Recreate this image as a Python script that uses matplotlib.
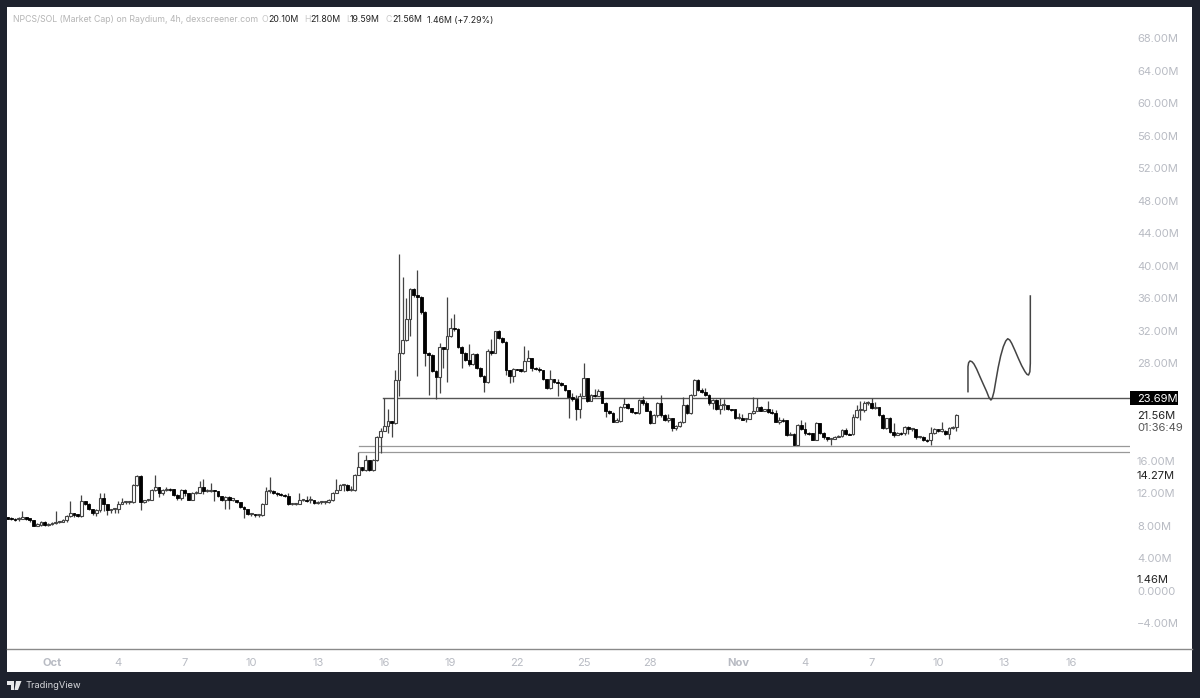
# NPCS/SOL market cap, 4h candles
import pandas as pd
import numpy as np
import matplotlib
matplotlib.use('Agg')
import matplotlib.pyplot as plt
import matplotlib.dates as mdates
from matplotlib.lines import Line2D
from matplotlib.patches import Rectangle, Polygon

plt.rcParams['font.family'] = ['Inter', 'DejaVu Sans']

# values in millions
closes = [
    8.95, 8.85, 8.75, 8.85, 9.0, 8.9, 8.7, 8.0, 8.1, 8.5,
    8.1, 8.2, 8.3, 8.45, 8.5, 8.65, 9.2, 9.5, 9.4, 9.15,
    11.0, 10.7, 10.0, 9.5, 9.9, 11.35, 10.7, 9.9, 10.0, 10.0,
    10.7, 10.9, 10.9, 10.9, 13.0, 14.1, 10.9, 11.1, 11.2, 12.4,
    12.7, 11.95, 12.4, 12.55, 12.5, 11.8, 11.4, 12.4, 11.95, 11.2,
    12.0, 12.05, 12.7, 12.2, 12.3, 12.35, 12.25, 11.65, 11.15, 11.5,
    11.2, 11.2, 10.9, 10.3, 10.0, 9.4, 9.4, 9.3, 9.3, 10.7,
    12.2, 12.2, 12.05, 11.9, 11.8, 11.7, 10.65, 10.7, 10.7, 11.15,
    11.15, 11.1, 11.1, 10.8, 10.9, 10.9, 10.9, 11.15, 12.05, 12.4,
    13.0, 13.0, 12.4, 12.4, 14.2, 15.25, 14.85, 16.05, 14.85, 16.05,
    18.9, 19.7, 20.3, 20.9, 20.6, 25.9, 29.3, 30.8, 33.4, 37.1,
    36.4, 36.2, 34.3, 29.3, 29.0, 27.0, 26.3, 30.0, 29.7, 31.3,
    32.3, 32.2, 30.0, 29.3, 28.4, 27.9, 29.1, 27.4, 26.4, 25.7,
    29.5, 29.2, 31.9, 31.1, 30.65, 27.15, 26.4, 27.3, 27.25, 27.0,
    28.3, 28.6, 27.4, 27.25, 27.1, 26.0, 24.9, 26.0, 25.7, 25.6,
    25.3, 24.7, 23.8, 23.55, 22.3, 24.0, 26.13, 23.38, 24.08, 23.96,
    24.6, 23.14, 22.15, 21.9, 20.8, 20.9, 22.6, 22.95, 22.44, 22.03,
    21.9, 23.46, 23.15, 22.15, 20.67, 21.6, 23.05, 21.6, 21.0, 21.3,
    19.97, 20.26, 20.8, 22.85, 21.9, 24.08, 25.93, 24.7, 24.5, 24.08,
    23.05, 23.46, 22.31, 22.85, 22.85, 22.4, 22.3, 21.2, 21.2, 21.08,
    21.08, 21.82, 22.15, 22.64, 22.15, 22.3, 22.03, 21.9, 20.8, 21.0,
    20.95, 19.15, 19.3, 17.95, 20.4, 19.95, 19.4, 19.35, 18.55, 20.6,
    19.45, 18.85, 18.6, 18.6, 18.85, 19.0, 19.8, 19.3, 19.25, 21.35,
    22.2, 22.2, 23.1, 23.1, 22.45, 22.55, 21.6, 20.0, 21.2, 19.55,
    19.15, 19.4, 19.35, 20.2, 19.85, 19.85, 18.85, 18.95, 18.55, 18.5,
    19.35, 19.85, 19.7, 19.7, 19.3, 20.0, 20.1, 21.56,
]
highs = [
    9.1, 9.0, 8.9, 9.0, 9.8, 9.0, 8.8, 8.7, 8.3, 8.6,
    8.6, 8.3, 8.4, 9.8, 8.6, 8.8, 9.3, 11.0, 9.5, 9.4,
    11.75, 11.0, 10.8, 10.1, 10.0, 12.0, 12.0, 10.7, 10.1, 10.1,
    11.0, 11.35, 11.0, 11.0, 13.1, 14.2, 14.2, 11.2, 11.3, 12.5,
    14.2, 12.8, 12.5, 12.7, 12.6, 12.5, 11.9, 12.5, 12.5, 12.0,
    12.1, 12.2, 13.5, 13.7, 12.5, 13.3, 12.4, 12.3, 11.7, 11.7,
    11.6, 11.3, 11.0, 10.7, 10.4, 9.6, 9.5, 9.4, 9.4, 10.8,
    12.8, 14.0, 12.4, 12.1, 12.0, 11.85, 12.0, 10.8, 10.8, 12.0,
    11.3, 11.7, 11.7, 11.2, 11.0, 11.0, 11.0, 11.3, 12.1, 13.7,
    13.1, 13.1, 13.1, 12.9, 14.3, 17.0, 15.2, 16.7, 15.6, 16.2,
    19.0, 20.0, 23.7, 22.4, 20.9, 27.2, 41.45, 38.6, 36.0, 37.2,
    37.2, 39.5, 36.3, 34.4, 29.4, 29.1, 27.2, 30.5, 29.9, 36.1,
    33.6, 34.1, 32.3, 30.1, 29.4, 30.4, 29.2, 29.2, 27.5, 26.5,
    29.7, 31.0, 32.0, 32.1, 31.2, 30.7, 27.2, 27.4, 27.3, 27.2,
    30.1, 29.6, 28.6, 27.5, 27.5, 27.1, 26.0, 27.2, 26.1, 26.0,
    25.7, 25.3, 24.7, 24.3, 24.1, 24.3, 28.0, 26.2, 24.2, 24.8,
    24.8, 23.6, 23.2, 22.2, 22.0, 21.2, 22.7, 23.7, 23.1, 22.5,
    22.0, 23.6, 23.9, 23.4, 22.2, 21.7, 23.2, 24.1, 21.7, 21.8,
    21.1, 20.4, 20.9, 23.8, 22.95, 24.2, 26.0, 26.0, 25.0, 25.0,
    24.2, 23.6, 23.6, 23.7, 23.6, 22.5, 22.4, 22.2, 21.9, 21.8,
    21.2, 21.9, 23.8, 23.7, 22.7, 22.4, 23.3, 22.3, 22.2, 21.4,
    21.2, 21.0, 19.5, 19.4, 20.5, 21.0, 20.8, 19.5, 19.4, 20.7,
    20.6, 19.5, 18.9, 18.7, 19.0, 19.1, 19.9, 20.0, 19.4, 21.7,
    22.9, 23.3, 23.3, 23.4, 23.65, 23.2, 22.6, 21.7, 21.3, 21.4,
    20.6, 19.5, 19.5, 20.3, 20.3, 20.0, 19.9, 19.0, 19.0, 18.6,
    20.2, 20.0, 19.8, 20.7, 19.75, 20.1, 20.3, 21.8,
]
lows = [
    8.8, 8.7, 8.6, 8.6, 8.8, 8.7, 8.5, 7.9, 7.9, 8.0,
    7.95, 8.0, 8.1, 8.2, 8.3, 8.4, 8.5, 9.1, 9.1, 9.0,
    9.0, 10.5, 9.9, 9.3, 9.2, 9.7, 9.8, 9.3, 9.6, 9.5,
    9.6, 10.6, 10.7, 10.7, 10.8, 12.9, 9.9, 10.8, 11.0, 11.1,
    12.3, 11.5, 11.8, 12.3, 12.3, 11.7, 11.2, 11.2, 11.7, 11.1,
    11.1, 11.9, 12.1, 11.9, 12.1, 12.1, 11.05, 11.5, 11.0, 10.1,
    10.1, 11.0, 10.8, 10.2, 8.9, 9.3, 9.2, 9.1, 9.1, 9.2,
    10.6, 12.0, 11.9, 11.7, 11.6, 11.5, 10.5, 10.5, 10.5, 10.7,
    11.0, 10.9, 10.8, 10.6, 10.7, 10.7, 10.7, 10.8, 11.0, 12.0,
    12.9, 12.3, 12.2, 12.3, 12.3, 14.2, 14.7, 14.7, 14.7, 14.7,
    16.0, 16.9, 19.6, 19.4, 18.95, 20.5, 23.9, 29.1, 30.7, 31.3,
    36.1, 26.4, 34.1, 27.6, 24.1, 26.9, 23.55, 24.3, 27.4, 25.7,
    31.2, 32.0, 29.9, 27.4, 28.3, 27.7, 27.8, 27.3, 26.3, 24.5,
    25.6, 29.0, 29.2, 31.0, 30.5, 26.5, 25.5, 25.7, 27.1, 26.9,
    26.9, 28.4, 27.0, 27.1, 26.9, 25.9, 24.8, 24.8, 25.5, 24.0,
    25.2, 24.6, 21.2, 23.4, 21.0, 21.2, 23.9, 23.2, 23.3, 23.8,
    24.1, 23.1, 21.4, 21.8, 20.7, 20.7, 20.8, 22.5, 22.3, 21.9,
    21.8, 21.8, 22.9, 22.1, 20.5, 20.6, 21.4, 21.4, 20.9, 20.7,
    19.7, 19.8, 20.2, 20.6, 21.7, 21.8, 24.0, 24.6, 24.3, 23.9,
    22.9, 22.4, 22.2, 21.7, 22.2, 22.2, 22.1, 21.1, 21.1, 21.0,
    20.7, 21.5, 21.8, 22.1, 22.1, 22.1, 21.9, 21.7, 20.7, 20.5,
    20.8, 19.0, 19.1, 17.9, 17.9, 19.8, 19.2, 19.2, 18.5, 18.5,
    19.3, 18.7, 18.4, 17.9, 18.7, 18.9, 18.9, 19.1, 19.1, 19.1,
    21.2, 21.0, 22.0, 22.9, 22.3, 22.3, 21.5, 19.9, 19.9, 19.4,
    18.9, 19.2, 19.2, 19.2, 19.3, 19.7, 18.7, 18.8, 18.4, 18.3,
    17.9, 19.3, 19.5, 19.5, 19.2, 18.6, 19.9, 19.59,
]
first_open = 9.0

# hand drawn line, day offset from Oct 1 and value
sketch_days = [41.355, 41.355, 41.385, 41.445, 41.535, 41.625, 41.745, 41.895, 42.05, 42.2, 42.3,
               42.39, 42.45, 42.53, 42.62, 42.72, 42.83, 42.95, 43.06, 43.15, 43.24, 43.33,
               43.48, 43.63, 43.78, 43.93, 44.02, 44.09, 44.15, 44.17, 44.17]
sketch_vals = [24.49, 27.57, 28.06, 28.27, 28.18, 27.9, 27.28, 26.34, 25.39, 24.49, 23.79,
               23.46, 23.67, 24.49, 25.93, 27.48, 28.88, 30.03, 30.73, 31.01, 30.85, 30.44,
               29.54, 28.59, 27.69, 26.95, 26.62, 26.54, 26.95, 27.98, 36.27]

level_vals = [23.69, 17.86, 17.0]
level_starts = ['2024-10-15 22:30', '2024-10-14 20:30', '2024-10-14 20:30']

y_ticks = [68, 64, 60, 56, 52, 48, 44, 40, 36, 32, 28, 16, 12, 8, 4, 0, -4]
y_labels = ['68.00M', '64.00M', '60.00M', '56.00M', '52.00M', '48.00M', '44.00M', '40.00M', '36.00M',
            '32.00M', '28.00M', '16.00M', '12.00M', '8.00M', '4.00M', '0.0000', '−4.00M']
x_ticks = ['2024-10-01', '2024-10-04', '2024-10-07', '2024-10-10', '2024-10-13', '2024-10-16',
           '2024-10-19', '2024-10-22', '2024-10-25', '2024-10-28', '2024-11-01', '2024-11-04',
           '2024-11-07', '2024-11-10', '2024-11-13', '2024-11-16']
x_labels = ['Oct', '4', '7', '10', '13', '16', '19', '22', '25', '28', 'Nov', '4', '7', '10', '13', '16']

W, H = 1200, 698
DARK = '#1e222d'
GREY = '#b8bbc3'

fig = plt.figure(figsize=(W / 100, H / 100), dpi=100, facecolor=DARK)
fig.add_artist(Rectangle((7 / W, 1 - 672 / H), 1185 / W, 665 / H, transform=fig.transFigure,
                         facecolor='white', edgecolor='none', zorder=-1))
ax = fig.add_axes([7 / W, 1 - 649 / H, 1123 / W, 642 / H], facecolor='none')

dates = pd.date_range('2024-09-29', periods=len(closes), freq='4h')
x = mdates.date2num(dates)
c = np.array(closes)
o = np.r_[first_open, c[:-1]]
up = c >= o

ax.vlines(x, lows, highs, color='#444444', lw=0.9, zorder=2)
ax.bar(x[up], np.maximum(c[up] - o[up], 0.14), 0.125, o[up], facecolor='white', edgecolor='#444444', lw=0.8, zorder=3)
ax.bar(x[~up], np.minimum(c[~up] - o[~up], -0.14), 0.125, o[~up], facecolor='black', edgecolor='black', lw=0.6, zorder=3)

oct1 = mdates.date2num(pd.Timestamp('2024-10-01'))
ax.plot(oct1 + np.array(sketch_days), sketch_vals, color='#444444', lw=1.1, zorder=4, solid_joinstyle='round')

ax.set_xlim(oct1 - 2.03, oct1 + 48.67)
ax.set_ylim(-7.2, 71.86)

for val, start, col, lw in zip(level_vals, level_starts, ['#555555', '#999999', '#999999'], [1.0, 0.9, 0.9]):
    ax.plot([mdates.date2num(pd.Timestamp(start)), ax.get_xlim()[1]], [val, val], color=col, lw=lw, zorder=1)

ax.yaxis.tick_right()
ax.set_yticks(y_ticks, y_labels, fontsize=8.0, color=GREY)
ax.tick_params(axis='y', length=0, pad=5)
ax.set_xticks(mdates.date2num(pd.to_datetime(x_ticks)), x_labels, fontsize=8.0, color=GREY)
ax.tick_params(axis='x', length=0, pad=6.3)
for lab in ax.get_xticklabels():
    if lab.get_text() in ('Oct', 'Nov'):
        lab.set_fontweight('bold')

for side in ['top', 'left', 'right', 'bottom']:
    ax.spines[side].set_visible(False)
# time scale border runs under the price scale as well
fig.add_artist(Line2D([7 / W, 1192 / W], [1 - 649 / H, 1 - 649 / H], transform=fig.transFigure,
                      color='#8a8a8a', lw=1.0))

# labels on the price scale
tr = ax.get_yaxis_transform()
ax.add_patch(Rectangle((1.0, 22.83), 48 / 1123, 1.72, transform=tr, facecolor='black', edgecolor='none',
                       clip_on=False, zorder=5))
ax.text(1.0062, 23.69, '23.69M', transform=tr, color='white', fontsize=8.0, va='center_baseline',
        clip_on=False, zorder=6)
ax.text(1.0062, 21.56, '21.56M', transform=tr, color='#222222', fontsize=8.0, va='center_baseline', clip_on=False)
ax.text(1.0062, 20.1, '01:36:49', transform=tr, color='#555555', fontsize=8.0, va='center_baseline', clip_on=False)
ax.text(1.0062, 14.27, '14.27M', transform=tr, color='#222222', fontsize=8.0, va='center_baseline', clip_on=False)
ax.text(1.0062, 1.46, '1.46M', transform=tr, color='#222222', fontsize=8.0, va='center_baseline', clip_on=False)


def px_text(px, py, s, **kw):
    fig.text(px / W, 1 - py / H, s, va='center', ha='left', **kw)


# header line
px_text(13, 20, 'NPCS/SOL (Market Cap) on Raydium, 4h, dexscreener.com', fontsize=6.3, color='#b5b5b5')
for px, letter, num_px, num in [(262, 'O', 268, '20.10M'), (304, 'H', 310, '21.80M'),
                                (346, 'L', 350, '19.59M'), (386, 'C', 392, '21.56M')]:
    px_text(px, 20, letter, fontsize=6.3, color='#c8c8c8')
    px_text(num_px, 20, num, fontsize=6.3, color='#222222')
px_text(427, 20, '1.46M (+7.29%)', fontsize=6.3, color='#222222')

# footer logo and name
logo_bars = [[(7, 681), (14, 681), (14, 690), (10.5, 690), (10.5, 685), (7, 685)],
             [(16, 681), (21.5, 681), (18, 690), (14.5, 690)]]
for pts in logo_bars:
    fig.add_artist(Polygon([(a / W, 1 - b / H) for a, b in pts], transform=fig.transFigure,
                           facecolor='#e8e8ea', edgecolor='none'))
px_text(25, 685.5, 'TradingView', fontsize=6.7, color='#d6d7db')

fig.savefig('out.png', dpi=100, facecolor=DARK)
